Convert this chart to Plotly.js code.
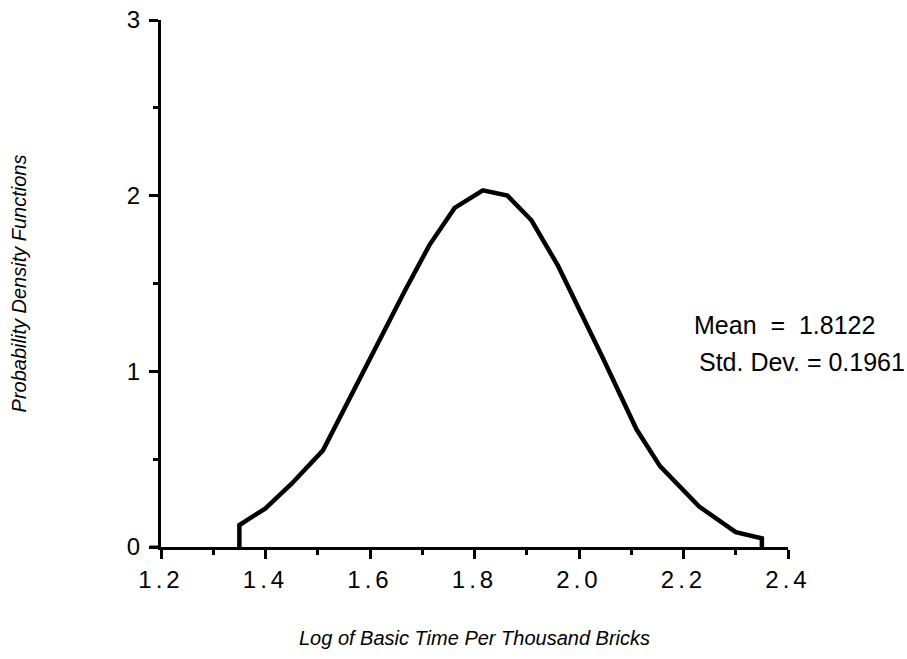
<!DOCTYPE html>
<html>
<head>
<meta charset="utf-8">
<script src="https://cdn.plot.ly/plotly-3.0.1.min.js"></script>
<style>
html,body{margin:0;padding:0;background:#fff;}
#chart{width:907px;height:659px;}
.xtick text{letter-spacing:4px;}
</style>
</head>
<body>
<div id="chart"></div>
<script>
var logTime = [1.35, 1.35, 1.40, 1.45, 1.51, 1.56, 1.595, 1.667, 1.714, 1.762, 1.816, 1.863, 1.909, 1.96, 2.045, 2.11, 2.155, 2.23, 2.30, 2.35, 2.35];
var density = [0, 0.125, 0.22, 0.36, 0.55, 0.84, 1.05, 1.46, 1.72, 1.93, 2.03, 2.00, 1.86, 1.60, 1.08, 0.67, 0.46, 0.23, 0.085, 0.05, 0];
var xTicks = [1.2, 1.4, 1.6, 1.8, 2.0, 2.2, 2.4];
var xTickText = ['1.2', '1.4', '1.6', '1.8', '2.0', '2.2', '2.4'];
var yTicks = [0, 1, 2, 3];
var statLines = ['Mean&nbsp; =&nbsp; 1.8122', 'Std. Dev. = 0.1961'];

var tickFont = {family: 'Liberation Sans, Arial, sans-serif', size: 24, color: '#000'};
var titleFont = {family: 'Liberation Sans, Arial, sans-serif', size: 20, color: '#000', style: 'italic'};
var statFont = {family: 'Liberation Sans, Arial, sans-serif', size: 25, color: '#000'};

var trace = {
  x: logTime, y: density, type: 'scatter', mode: 'lines',
  line: {color: '#000', width: 4.5, shape: 'linear'},
  hoverinfo: 'skip'
};

var layout = {
  width: 907, height: 659,
  margin: {l: 161, r: 119, t: 20, b: 112},
  paper_bgcolor: '#fff', plot_bgcolor: '#fff',
  showlegend: false,
  xaxis: {
    range: [1.2, 2.4], tickvals: xTicks, ticktext: xTickText,
    showgrid: false, zeroline: false,
    showline: true, linecolor: '#000', linewidth: 3,
    ticks: 'outside', ticklen: 9, tickwidth: 3, tickcolor: '#000',
    minor: {dtick: 0.1, tick0: 1.2, ticks: 'outside', ticklen: 5, tickwidth: 3, tickcolor: '#000', showgrid: false},
    tickfont: tickFont,
    title: {text: 'Log of Basic Time Per Thousand Bricks', font: titleFont, standoff: 40}
  },
  yaxis: {
    range: [0, 3], tickvals: yTicks,
    showgrid: false, zeroline: false,
    showline: true, linecolor: '#000', linewidth: 3,
    ticks: 'outside', ticklen: 9, tickwidth: 3, tickcolor: '#000',
    minor: {dtick: 0.5, tick0: 0, ticks: 'outside', ticklen: 5, tickwidth: 3, tickcolor: '#000', showgrid: false},
    tickfont: tickFont,
    ticklabelstandoff: 4,
    title: {text: 'Probability Density Functions', font: titleFont, standoff: 95}
  },
  shapes: [
    {type: 'line', xref: 'paper', yref: 'paper', x0: -0.018, x1: 0, y0: 0, y1: 0, line: {color: '#000', width: 3}}
  ],
  annotations: [
    {xref: 'paper', yref: 'paper', x: (692 - 161) / 627, y: (547 - 325) / 527, xanchor: 'left', yanchor: 'middle',
     text: statLines[0], showarrow: false, font: statFont},
    {xref: 'paper', yref: 'paper', x: (697 - 161) / 627, y: (547 - 362) / 527, xanchor: 'left', yanchor: 'middle',
     text: statLines[1], showarrow: false, font: statFont}
  ]
};

Plotly.newPlot('chart', [trace], layout, {staticPlot: true, displayModeBar: false});
</script>
</body>
</html>
